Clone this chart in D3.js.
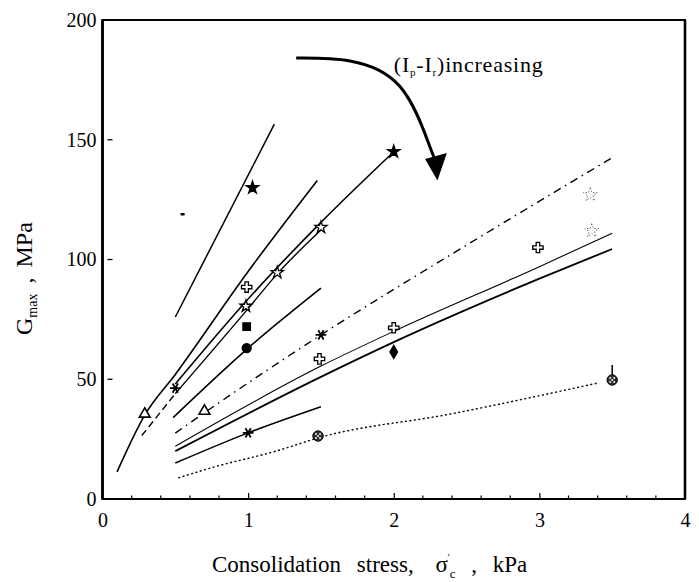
<!DOCTYPE html>
<html>
<head>
<meta charset="utf-8">
<script src="https://cdn.jsdelivr.net/npm/d3@7"></script>
<style>
  body { margin: 0; background: #fff; }
  svg text { font-family: "Liberation Serif", "DejaVu Serif", serif; fill: #000; }
</style>
</head>
<body>
<svg id="chart" width="699" height="582" font-family="Liberation Serif, DejaVu Serif, serif"></svg>
<script>
// ---- axis ticks ----
const xTicks = [0, 1, 2, 3, 4];
const xMinorTicks = [0.2, 0.4, 0.6, 0.8, 1.2, 1.4, 1.6, 1.8, 2.2, 2.4, 2.6, 2.8, 3.2, 3.4, 3.6, 3.8];
const yTicks = [0, 50, 100, 150, 200];
const yInnerTicks = [50, 100, 150];

// ---- trend lines: [consolidation stress (kPa), Gmax (MPa)] ----
const steepLine   = [[0.5, 76], [1.18, 156.5]];
const curveB      = [[0.1, 11.3], [0.29, 35], [0.5, 52], [1.0, 95], [1.475, 133]];
const upperTwin   = [[0.5, 48], [1.0, 83.5], [1.5, 115.5], [2.0, 145]];
const lowerTwin   = [[0.5, 44], [1.0, 79.5], [1.2, 94], [1.5, 112.3]];
const lowerTwinExt = [[0.27, 26.5], [0.5, 44]];
const circleLine  = [[0.485, 34], [1.0, 63], [1.5, 88]];
const dashDotLine = [[0.5, 27.5], [0.7, 36], [1.5, 68.5], [2.5, 106], [3.5, 142.5]];
const thinLine    = [[0.5, 22], [1.5, 55.5], [2.0, 70], [3.0, 97], [3.5, 111]];
const boldLine    = [[0.5, 20], [1.5, 51], [2.0, 65.5], [3.0, 92], [3.5, 104.4]];
const crossLine   = [[0.5, 15], [1.0, 27.6], [1.5, 38.5]];
const dottedLine  = [[0.52, 8.8], [0.74, 12.9], [1.22, 20.5], [1.48, 25.5], [2.39, 35.5], [3.4, 48.4]];

// ---- measured points ----
const filledStars   = [[1.03, 130], [2.0, 145]];
const openStars     = [[0.985, 80.5], [1.2, 94.5], [1.5, 113.4]];
const openCrosses   = [[0.99, 88.5], [1.49, 58.5], [2.0, 71.5], [2.99, 105]];
const openTriangles = [[0.29, 35.5], [0.7, 36.7]];
const asterisks     = [[0.5, 46.3], [1.5, 68.5], [1.0, 27.6]];
const filledSquares = [[0.99, 72]];
const filledCircles = [[0.99, 63]];
const filledDiamonds = [[2.0, 61.4]];
const dottedCircles = [[1.48, 26.3], [3.5, 49.7]];
const faintStars    = [[3.35, 127], [3.36, 112]];
const errorBar      = [[3.5, 49.7], [3.5, 56]];
const strayMark     = [[0.55, 119]];

// ---- annotation arrow path ----
const arrowPath = [[1.33, 184.1], [1.70, 182.9], [2.04, 172.4], [2.23, 150], [2.29, 140.5]];
const arrowHead = [[2.215, 142], [2.365, 144.5], [2.30, 133]];
const arrowLabelPos = [2.0, 178.3];

const serif = "Liberation Serif, DejaVu Serif, serif";
const svg = d3.select("#chart");
const x = d3.scaleLinear().domain([0, 4]).range([102.5, 685]);
const y = d3.scaleLinear().domain([0, 200]).range([499, 20]);

const line = d3.line().x(d => x(d[0])).y(d => y(d[1])).curve(d3.curveMonotoneX);

// ---- trend lines ----
const lines = [
  { data: steepLine, w: 1.5 },
  { data: curveB, w: 1.6 },
  { data: upperTwin, w: 1.6 },
  { data: lowerTwin, w: 1.4 },
  { data: lowerTwinExt, w: 1.4, dash: "7,4" },
  { data: circleLine, w: 1.6 },
  { data: dashDotLine, w: 1.4, dash: "8,5,1.5,5" },
  { data: thinLine, w: 1.1 },
  { data: boldLine, w: 1.8 },
  { data: crossLine, w: 1.5 },
  { data: dottedLine, w: 1.4, dash: "2,2.5" }
];
svg.append("g").selectAll("path").data(lines).join("path")
  .attr("d", d => line(d.data))
  .attr("fill", "none")
  .attr("stroke", "#000")
  .attr("stroke-width", d => d.w)
  .attr("stroke-dasharray", d => d.dash || null);

// ---- markers ----
function drawSymbols(data, type, size, filled, opts = {}) {
  svg.append("g").selectAll("path").data(data).join("path")
    .attr("transform", d => `translate(${x(d[0])},${y(d[1])}) rotate(${opts.rotate || 0})`)
    .attr("d", d3.symbol().type(type).size(size))
    .attr("fill", filled ? (opts.fill || "#000") : "#fff")
    .attr("stroke", opts.stroke || "#000")
    .attr("stroke-width", opts.sw || 1.3)
    .attr("stroke-dasharray", opts.dash || null);
}
drawSymbols(filledStars, d3.symbolStar, 48, true);
drawSymbols(openStars, d3.symbolStar, 45, false);
drawSymbols(openCrosses, d3.symbolCross, 60, false);
drawSymbols(openTriangles, d3.symbolTriangle, 50, false, { sw: 1.6 });
drawSymbols(asterisks, d3.symbolAsterisk, 80, false, { rotate: 90, sw: 1.8 });
drawSymbols(filledSquares, d3.symbolSquare, 56, true);
drawSymbols(filledCircles, d3.symbolCircle, 64, true);
drawSymbols(filledDiamonds, d3.symbolDiamond, 50, true);
drawSymbols(faintStars, d3.symbolStar, 60, false, { stroke: "#555", dash: "1.2,2", sw: 1 });

// error bar on the last dotted-line point
svg.append("line")
  .attr("x1", x(errorBar[0][0])).attr("y1", y(errorBar[0][1]))
  .attr("x2", x(errorBar[1][0])).attr("y2", y(errorBar[1][1]))
  .attr("stroke", "#000").attr("stroke-width", 1.5);

// speckled circles
const speck = svg.append("g").selectAll("g").data(dottedCircles).join("g")
  .attr("transform", d => `translate(${x(d[0])},${y(d[1])})`);
speck.append("circle").attr("r", 5.2).attr("fill", "#333").attr("stroke", "#000").attr("stroke-width", 1);
speck.selectAll("circle.dot").data([[-2, -2], [2, -2], [-2, 2], [2, 2], [0, 0]]).join("circle")
  .attr("class", "dot").attr("cx", d => d[0]).attr("cy", d => d[1]).attr("r", 0.9).attr("fill", "#fff");

svg.append("g").selectAll("rect").data(strayMark).join("rect")
  .attr("x", d => x(d[0]) - 2).attr("y", d => y(d[1]) - 1)
  .attr("width", 4).attr("height", 2.5).attr("fill", "#000");

// ---- frame and axes ----
svg.append("rect")
  .attr("x", x(0)).attr("y", y(200))
  .attr("width", x(4) - x(0)).attr("height", y(0) - y(200))
  .attr("fill", "none").attr("stroke", "#000").attr("stroke-width", 2);
svg.append("line").attr("x1", x(0)).attr("x2", x(0)).attr("y1", y(200)).attr("y2", y(0))
  .attr("stroke", "#000").attr("stroke-width", 2.8);
svg.append("line").attr("x1", x(4)).attr("x2", x(4)).attr("y1", y(200)).attr("y2", y(0))
  .attr("stroke", "#000").attr("stroke-width", 2.6);

const xAxis = d3.axisBottom(x).tickValues(xTicks).tickSize(-6).tickPadding(14)
  .tickFormat(d3.format("d"));
const gx = svg.append("g").attr("transform", `translate(0,${y(0)})`).call(xAxis)
  .attr("font-family", serif);
gx.select(".domain").remove();
gx.selectAll(".tick line").attr("stroke-width", 1.2)
  .filter(d => d === 0 || d === 4).remove();
gx.selectAll("text").attr("font-size", 20).attr("font-family", serif);

svg.append("g").selectAll("line").data(xMinorTicks).join("line")
  .attr("x1", d => x(d)).attr("x2", d => x(d))
  .attr("y1", y(0)).attr("y2", y(0) - 3.5)
  .attr("stroke", "#000").attr("stroke-width", 1.2);

const yAxis = d3.axisLeft(y).tickValues(yTicks).tickSize(0).tickPadding(6)
  .tickFormat(d3.format("d"));
const gy = svg.append("g").attr("transform", `translate(${x(0)},0)`).call(yAxis)
  .attr("font-family", serif);
gy.select(".domain").remove();
gy.selectAll("text").attr("font-size", 20).attr("font-family", serif);

svg.append("g").selectAll("line").data(yInnerTicks).join("line")
  .attr("x1", x(0) + 5).attr("x2", x(0) + 10)
  .attr("y1", d => y(d)).attr("y2", d => y(d))
  .attr("stroke", "#000").attr("stroke-width", 1.3);

// ---- axis titles ----
const xt = svg.append("text")
  .attr("x", 212).attr("y", 572)
  .attr("font-family", serif)
  .attr("font-size", 23).attr("word-spacing", 10);
xt.append("tspan").text("Consolidation stress, ");
xt.append("tspan").attr("dx", 6).text("σ");
xt.append("tspan").attr("font-size", 10).attr("dy", -11).attr("dx", 0).text("'");
xt.append("tspan").attr("font-size", 13).attr("dy", 17).attr("dx", 0).text("c");
xt.append("tspan").attr("dy", -6).text(" , kPa");

const yt = svg.append("text")
  .attr("transform", `translate(32,335) rotate(-90)`)
  .attr("font-family", serif)
  .attr("font-size", 24).attr("word-spacing", 4);
yt.append("tspan").text("G");
yt.append("tspan").attr("font-size", 14).attr("dy", 5).text("max");
yt.append("tspan").attr("dy", -5).text(" , MPa");

// ---- annotation ----
svg.append("path")
  .attr("d", d3.line().x(d => x(d[0])).y(d => y(d[1])).curve(d3.curveNatural)(arrowPath))
  .attr("fill", "none").attr("stroke", "#000").attr("stroke-width", 3);
svg.append("path")
  .attr("d", "M" + arrowHead.map(d => [x(d[0]), y(d[1])].join(",")).join("L") + "Z")
  .attr("fill", "#000");

const lab = svg.append("text")
  .attr("x", x(arrowLabelPos[0])).attr("y", y(arrowLabelPos[1]))
  .attr("font-family", serif)
  .attr("font-size", 22).attr("letter-spacing", 0.8);
lab.append("tspan").text("(I");
lab.append("tspan").attr("font-size", 11).attr("dy", 4).text("p");
lab.append("tspan").attr("dy", -4).text("-I");
lab.append("tspan").attr("font-size", 11).attr("dy", 4).text("r");
lab.append("tspan").attr("dy", -4).text(")increasing");
</script>
</body>
</html>
